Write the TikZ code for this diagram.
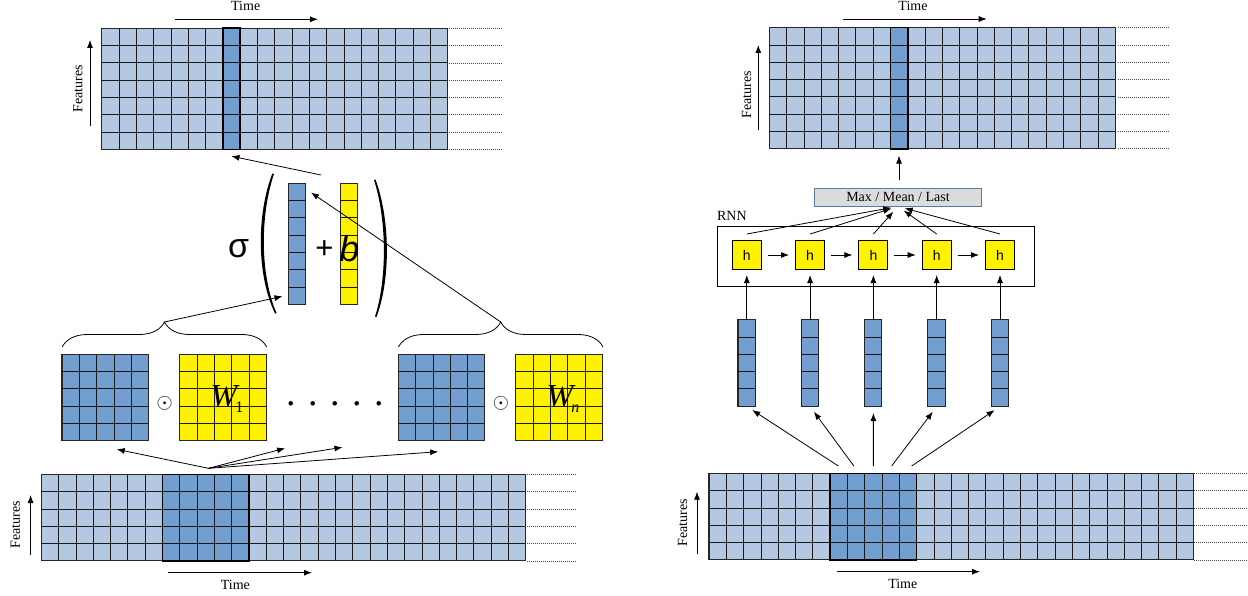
\documentclass[tikz,border=0pt]{standalone}
\usepackage{fontspec}
\setmainfont{Liberation Serif}
\setsansfont{Liberation Sans}
\usetikzlibrary{arrows.meta,decorations.pathreplacing}

\definecolor{lightcell}{HTML}{B4C8E1}
\definecolor{darkcell}{HTML}{729FCF}
\definecolor{aggfill}{HTML}{DCDCDC}
\definecolor{aggline}{HTML}{5A78AA}

\def\cellsz{17.3}
% cols, rows, fill, dark columns #4 to #5
\newcommand{\cellgrid}[5]{%
  \fill[#3] (0,0) rectangle (#1*\cellsz,#2*\cellsz);
  \fill[darkcell] (#4*\cellsz,0) rectangle (#5*\cellsz,#2*\cellsz);
  \foreach \i in {0,...,#1} \draw[cellline] (\i*\cellsz,0) -- (\i*\cellsz,#2*\cellsz);
  \foreach \j in {0,...,#2} \draw[cellline] (0,\j*\cellsz) -- (#1*\cellsz,\j*\cellsz);
  \draw[cellframe] (0,0) rectangle (#1*\cellsz,#2*\cellsz);
}

\tikzset{
  cellline/.style={black!90, line width=0.8pt},
  cellframe/.style={black!85, line width=1.1pt},
  win/.style={draw=black, line width=1.6pt, inner sep=0pt},
  dotline/.style={black!70, dash pattern=on 1pt off 1pt, line width=0.6pt},
  arr/.style={-{Latex[length=8pt,width=6pt]}, line width=0.8pt},
  lbl/.style={font=\fontsize{14}{16}\selectfont, inner sep=0pt},
  hbox/.style={draw, fill=yellow, line width=1pt, minimum size=29pt, inner sep=0pt, font=\sffamily\fontsize{14}{16}\selectfont},
  vecbox/.style={inner sep=0pt, minimum width=17.3pt, minimum height=86.5pt},
}

\begin{document}
\begin{tikzpicture}[x=1pt,y=-1pt]
\useasboundingbox (0,0) rectangle (1248,596);

% ---------------- left: convolution ----------------
% output sequence
\begin{scope}[shift={(101.7,28.3)}]
\cellgrid{20}{7}{lightcell}{7}{8}
\foreach \j in {0,...,7} \draw[dotline] (20*\cellsz+1,\j*\cellsz) -- ++(53,0);
\end{scope}
\node[win, minimum width=17.3pt, minimum height=121.1pt] (outL) at (231.45,88.85) {};
\node[lbl] (timeTL) at (245.7,6) {Time};
\draw[arr] (175,19.3) -- (318,19.3);
\node[lbl, rotate=90] (featTL) at (77.8,89) {Features};
\draw[arr] (90,126) -- (90,40);

% sigma( vec + b )
\node[font=\sffamily\fontsize{34}{34}\selectfont, inner sep=0pt] (sigma) at (238.7,248.7) {σ};
\fill (272.3,173.5) .. controls (256.5,215) and (256.5,275) .. (275,313.5)
   -- (276.5,313) .. controls (260,275) and (260,215) .. (274,174) -- cycle;
\fill (375.5,179.5) .. controls (390.5,220) and (390.5,280) .. (376.5,317)
   -- (375,316.5) .. controls (387,280) and (387,220) .. (374,180) -- cycle;
\node[vecbox, minimum height=121.1pt] (vec) at (297.2,243.85) {};
\begin{scope}[shift={(vec.north west)}] \cellgrid{1}{7}{darkcell}{0}{0} \end{scope}
\node[vecbox, minimum height=121.1pt] (bias) at (349.3,243.85) {};
\begin{scope}[shift={(bias.north west)}] \cellgrid{1}{7}{yellow}{0}{0} \end{scope}
\node[font=\sffamily\fontsize{31}{31}\selectfont, inner sep=0pt] (plus) at (324.5,250) {+};
\node[font=\sffamily\itshape\fontsize{36}{36}\selectfont, inner sep=0pt] (bb) at (349.5,248.3) {b};
\coordinate (sigtop) at (321,175);
\draw[arr] (sigtop) -- ([yshift=-6pt]outL.south);

% kernels
\foreach \nm/\cx/\col in {mL/105.45/darkcell, mW1/223.25/yellow, mR/441.75/darkcell, mWn/559.25/yellow} {
  \node[inner sep=0pt, minimum size=86.5pt] (\nm) at (\cx,397.55) {};
  \begin{scope}[shift={(\nm.north west)}] \cellgrid{5}{5}{\col}{0}{0} \end{scope}
}
\node[inner sep=0pt, font=\fontsize{20}{20}\selectfont] (odotL) at (164.8,403) {$\odot$};
\node[inner sep=0pt, font=\fontsize{20}{20}\selectfont] (odotR) at (501,403) {$\odot$};
\node[inner sep=0pt] (lblW1) at (227,399.3) {\fontsize{32}{32}\selectfont\itshape W\kern-2pt\raisebox{-6pt}{\fontsize{16}{16}\selectfont\upshape 1}};
\node[inner sep=0pt] (lblWn) at (563,399.3) {\fontsize{32}{32}\selectfont\itshape W\kern-2pt\raisebox{-6pt}{\fontsize{16}{16}\selectfont n}};
\node[inner sep=0pt, font=\fontsize{38}{38}\selectfont] (ellip) at (335.3,404) {. . . . .};

% braces
\draw[decorate, decoration={brace, amplitude=25pt}, line width=0.8pt] (62.2,347) -- (266.7,347);
\draw[decorate, decoration={brace, amplitude=25pt}, line width=0.8pt] (398.5,347) -- (603,347);
\coordinate (tipBL) at (164.5,322);
\coordinate (tipBR) at (500.7,322);
\draw[arr, shorten >=6pt] (tipBL) -- ([yshift=9.5pt]vec.south west);
\draw[arr, shorten >=6pt] (tipBR) -- ([yshift=-6pt]vec.north east);

% input sequence
\begin{scope}[shift={(41.3,474.3)}]
\cellgrid{28}{5}{lightcell}{7}{12}
\foreach \j in {0,...,5} \draw[dotline] (28*\cellsz+1,\j*\cellsz) -- ++(50,0);
\end{scope}
\node[win, minimum size=86.5pt] (winL) at (205.65,517.55) {};
\node[lbl, rotate=90] (featBL) at (15.3,525) {Features};
\draw[arr] (30.6,555) -- (30.6,495);
\draw[arr] (168.4,572.7) -- (312,572.7);
\node[lbl] (timeBL) at (235.4,584.7) {Time};

\coordinate (fanL) at (208.5,468.3);
\coordinate (tL1) at (116.7,449.3);
\coordinate (tL2) at (285.1,448.3);
\coordinate (tL3) at (342.5,447.3);
\coordinate (tL4) at (438.2,451.7);
\foreach \k in {1,...,4} \draw[arr] (fanL) -- (tL\k);

% ---------------- right: RNN ----------------
\begin{scope}[shift={(769.3,27.7)}]
\cellgrid{20}{7}{lightcell}{7}{8}
\foreach \j in {0,...,7} \draw[dotline] (20*\cellsz+2.7,\j*\cellsz) -- ++(52,0);
\end{scope}
\node[win, minimum width=17.3pt, minimum height=121.1pt] (outR) at (899.05,88.25) {};
\node[lbl] (timeTR) at (913,5.7) {Time};
\draw[arr] (843.3,19) -- (986.7,19);
\node[lbl, rotate=90] (featTR) at (746.7,95) {Features};
\draw[arr] (758.3,130) -- (758.3,45);

\node[draw=aggline, fill=aggfill, line width=0.8pt, minimum width=167.4pt, minimum height=17.7pt, lbl] (agg) at (898,197.2) {Max / Mean / Last};
\draw[arr, shorten <=8pt] (outR.south |- agg.north) -- ([yshift=-6pt]outR.south);

\node[draw, line width=0.9pt, minimum width=317pt, minimum height=60pt, inner sep=0pt] (rnn) at (875.8,256) {};
\node[lbl, anchor=south west] (rnnlbl) at ([yshift=5pt]rnn.north west) {RNN};

\foreach \k in {1,...,5} \node[hbox] (h\k) at ({746.8+63.3*(\k-1)},255) {h};
\foreach \k/\nk in {1/2,2/3,3/4,4/5} \draw[arr, shorten <=6pt, shorten >=6pt] (h\k) -- (h\nk);
\foreach \k in {1,...,5} \draw[arr, shorten >=7pt] ([yshift=6pt]h\k.north) -- (agg.south);

\foreach \k in {1,...,5} {
  \node[vecbox] (v\k) at ({746.8+63.3*(\k-1)},363.05) {};
  \begin{scope}[shift={(v\k.north west)}] \cellgrid{1}{5}{darkcell}{0}{0} \end{scope}
  \draw[arr, shorten >=5pt] (v\k) -- (h\k);
}

\begin{scope}[shift={(709,473.3)}]
\cellgrid{28}{5}{lightcell}{7}{12}
\foreach \j in {0,...,5} \draw[dotline] (28*\cellsz+1,\j*\cellsz) -- ++(54,0);
\end{scope}
\node[win, minimum size=86.5pt] (winR) at (873.35,516.55) {};
\foreach \k/\sx in {1/-35,2/-19.5,3/0,4/18.3,5/38.3}
  \draw[arr, shorten >=6.5pt] ([xshift=\sx pt,yshift=6.5pt]winR.north) -- (v\k.south);
\node[lbl, rotate=90] (featBR) at (682.5,523) {Features};
\draw[arr] (697,554) -- (697,491.7);
\draw[arr] (836.5,571.7) -- (980,571.7);
\node[lbl] (timeBR) at (902.8,584) {Time};
\end{tikzpicture}
\end{document}
